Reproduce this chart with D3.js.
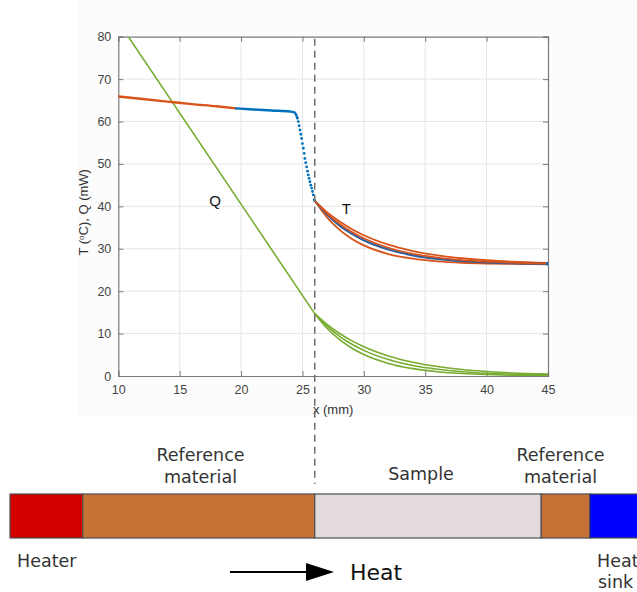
<!DOCTYPE html>
<html>
<head>
<meta charset="utf-8">
<script src="https://cdn.jsdelivr.net/npm/d3@7"></script>
<style>
  html, body { margin: 0; padding: 0; background: #ffffff; }
  svg { display: block; }
</style>
</head>
<body>
<svg id="chart" width="637" height="592"></svg>
<script>
// ---- data ----------------------------------------------------------------
const xTicks = [10, 15, 20, 25, 30, 35, 40, 45];
const yTicks = [0, 10, 20, 30, 40, 50, 60, 70, 80];
const interfaceX = 26; // reference / sample boundary (mm)

// modelled temperature in the reference section (orange)
const tRefModel = [[10, 65.9], [12, 65.3], [14, 64.7], [16, 64.1], [18, 63.6], [19.6, 63.1]];

// measured temperature, dense part before the drop (blue)
const tMeasFlat = [[19.6, 63.1], [21, 62.85], [22.5, 62.6], [24, 62.35], [24.3, 62.2], [24.45, 61.8], [24.55, 61.1]];
// measured temperature, individual points across the interface
const tMeasDrop = [
  [24.59, 60.8], [24.66, 60.0], [24.73, 59.0], [24.8, 58.0], [24.87, 57.0], [24.93, 56.0],
  [25.0, 54.8], [25.07, 53.7], [25.14, 52.5], [25.2, 51.3], [25.27, 50.3], [25.34, 49.3],
  [25.41, 48.3], [25.47, 47.4], [25.54, 46.6], [25.61, 45.8], [25.68, 45.0], [25.75, 44.3],
  [25.82, 43.5], [25.88, 42.7], [25.96, 41.5]
];
// measured temperature inside the sample (blue)
const tMeasSample = [[26, 41.3], [27, 38.08], [28, 35.54], [29, 33.56], [30, 31.99], [32, 29.81],
  [34, 28.46], [36, 27.63], [38, 27.12], [40, 26.81], [42, 26.61], [45, 26.45]];

// modelled temperature inside the sample, three fits (orange)
const tFitHigh = [[26, 41.3], [27, 38.65], [28, 36.47], [29, 34.68], [30, 33.2], [32, 30.98],
  [34, 29.47], [36, 28.45], [38, 27.76], [40, 27.29], [42, 26.97], [45, 26.67]];
const tFitMid = [[26, 41.3], [27, 38.31], [28, 35.92], [29, 34.0], [30, 32.47], [32, 30.25],
  [34, 28.84], [36, 27.93], [38, 27.34], [40, 26.97], [42, 26.73], [45, 26.52]];
const tFitLow = [[26, 41.3], [27, 37.4], [28, 34.51], [29, 32.38], [30, 30.8], [32, 28.76],
  [34, 27.65], [36, 27.04], [38, 26.7], [40, 26.52], [42, 26.42], [45, 26.35]];

// heat flow through the reference section (green)
const qRef = [[10, 83.5], [26, 14.7]];
// heat flow inside the sample, three fits (green)
const qFitA = [[26, 14.7], [27, 12.17], [28, 10.08], [29, 8.35], [30, 6.91], [32, 4.74],
  [34, 3.25], [36, 2.23], [38, 1.53], [40, 1.05], [42, 0.72], [45, 0.45]];
const qFitB = [[26, 14.7], [27, 11.77], [28, 9.42], [29, 7.55], [30, 6.04], [32, 3.87],
  [34, 2.48], [36, 1.59], [38, 1.02], [40, 0.66], [42, 0.42], [45, 0.28]];
const qFitC = [[26, 14.7], [27, 11.26], [28, 8.63], [29, 6.61], [30, 5.06], [32, 2.97],
  [34, 1.74], [36, 1.02], [38, 0.6], [40, 0.35], [42, 0.21], [45, 0.12]];

// stack layout below the plot (positions in mm along the same x axis)
const stackParts = ["Heater", "Reference material", "Sample", "Reference material", "Heat sink"];
const stackStart = [1.18, 7.1, 26, 44.45, 48.4];
const stackEnd = [7.1, 26, 44.45, 48.4, 53];
const stackColors = ["#d40000", "#c87137", "#e3dbdb", "#c87137", "#0000ff"];

// ---- layout ----------------------------------------------------------------
const svg = d3.select("#chart");
const plot = { left: 118.3, right: 548, top: 36.7, bottom: 376 };

const x = d3.scaleLinear().domain([10, 45]).range([plot.left, plot.right]);
const y = d3.scaleLinear().domain([0, 80]).range([plot.bottom, plot.top]);

const ORANGE = "#d95319";
const BLUE = "#0072bd";
const GREEN = "#77ac30";

// faint figure background behind the axes
svg.append("rect")
  .attr("x", 78).attr("y", 0).attr("width", 559).attr("height", 417)
  .attr("fill", "#fcfcfc");

svg.append("rect")
  .attr("x", plot.left).attr("y", plot.top)
  .attr("width", plot.right - plot.left).attr("height", plot.bottom - plot.top)
  .attr("fill", "#ffffff");

// grid
const grid = svg.append("g").attr("stroke", "#e6e6e6").attr("stroke-width", 1);
grid.selectAll("line.gx").data(xTicks.slice(1, -1)).join("line")
  .attr("x1", d => x(d)).attr("x2", d => x(d))
  .attr("y1", plot.top).attr("y2", plot.bottom);
grid.selectAll("line.gy").data(yTicks.slice(1, -1)).join("line")
  .attr("x1", plot.left).attr("x2", plot.right)
  .attr("y1", d => y(d)).attr("y2", d => y(d));

// axes (ticks pointing inward, box on all sides)
const axisColor = "#7a7a7a";
const fontAxis = "'Liberation Sans', Arial, sans-serif";

const gx = svg.append("g").attr("transform", `translate(0,${plot.bottom})`)
  .call(d3.axisBottom(x).tickValues(xTicks).tickSize(-5).tickPadding(9).tickFormat(d3.format("d")));
const gy = svg.append("g").attr("transform", `translate(${plot.left},0)`)
  .call(d3.axisLeft(y).tickValues(yTicks).tickSize(-5).tickPadding(7).tickFormat(d3.format("d")));
const gxTop = svg.append("g").attr("transform", `translate(0,${plot.top})`)
  .call(d3.axisTop(x).tickValues(xTicks).tickSize(-5).tickFormat(""));
const gyRight = svg.append("g").attr("transform", `translate(${plot.right},0)`)
  .call(d3.axisRight(y).tickValues(yTicks).tickSize(-5).tickFormat(""));

[gx, gy, gxTop, gyRight].forEach(g => {
  g.selectAll("path").attr("stroke", axisColor).attr("stroke-width", 1.2);
  g.selectAll("line").attr("stroke", axisColor);
  g.selectAll("text").attr("fill", "#444").attr("font-size", 12.5).attr("font-family", fontAxis);
});

// axis titles
svg.append("text")
  .attr("x", x(27.5)).attr("y", 414)
  .attr("text-anchor", "middle")
  .attr("font-family", fontAxis).attr("font-size", 13).attr("fill", "#333")
  .text("x (mm)");

const yTitle = svg.append("text")
  .attr("transform", `translate(88,${(plot.top + plot.bottom) / 2 + 6}) rotate(-90)`)
  .attr("text-anchor", "middle")
  .attr("font-family", fontAxis).attr("font-size", 13).attr("fill", "#333");
yTitle.append("tspan").text("T (");
yTitle.append("tspan").attr("baseline-shift", "super").attr("font-size", 8).text("o");
yTitle.append("tspan").text("C), Q (mW)");

// clip for data lines
svg.append("clipPath").attr("id", "plotClip")
  .append("rect").attr("x", plot.left).attr("y", plot.top)
  .attr("width", plot.right - plot.left).attr("height", plot.bottom - plot.top);

const data = svg.append("g").attr("clip-path", "url(#plotClip)");
const line = d3.line().x(d => x(d[0])).y(d => y(d[1])).curve(d3.curveMonotoneX);

function drawLine(points, color, width) {
  data.append("path").datum(points)
    .attr("fill", "none").attr("stroke", color).attr("stroke-width", width)
    .attr("stroke-linejoin", "round").attr("stroke-linecap", "round")
    .attr("d", line);
}

// heat flow
drawLine(qRef, GREEN, 1.6);
[qFitA, qFitB, qFitC].forEach(s => drawLine(s, GREEN, 1.6));

// temperature
drawLine(tRefModel, ORANGE, 2.4);
[tFitHigh, tFitLow].forEach(s => drawLine(s, ORANGE, 1.8));
drawLine(tMeasSample, "#2f5d9c", 2.2);
drawLine(tFitMid, ORANGE, 1.6);
drawLine(tMeasFlat, BLUE, 2.4);
data.selectAll("circle.meas").data(tMeasDrop).join("circle")
  .attr("cx", d => x(d[0])).attr("cy", d => y(d[1])).attr("r", 1.4)
  .attr("fill", BLUE);
data.append("circle")
  .attr("cx", x(tMeasSample[tMeasSample.length - 1][0]))
  .attr("cy", y(tMeasSample[tMeasSample.length - 1][1]))
  .attr("r", 2).attr("fill", BLUE);

// series labels
const fontLabel = "'Liberation Sans', Arial, sans-serif";
svg.append("text").attr("x", x(17.4)).attr("y", y(40.1))
  .attr("font-family", fontLabel).attr("font-size", 15).attr("fill", "#111").text("Q");
svg.append("text").attr("x", x(28.2)).attr("y", y(38.2))
  .attr("font-family", fontLabel).attr("font-size", 15).attr("fill", "#111").text("T");

// ---- stack diagram -------------------------------------------------------------
const barTop = 494, barBottom = 538;
const stack = svg.append("g");
stack.selectAll("rect").data(stackParts).join("rect")
  .attr("x", (d, i) => x(stackStart[i]))
  .attr("y", barTop)
  .attr("width", (d, i) => x(stackEnd[i]) - x(stackStart[i]))
  .attr("height", barBottom - barTop)
  .attr("fill", (d, i) => stackColors[i])
  .attr("stroke", "#4d4d4d").attr("stroke-width", 1.2);

// interface marker running through plot and diagram
svg.append("line")
  .attr("x1", x(interfaceX)).attr("x2", x(interfaceX))
  .attr("y1", plot.top + 2).attr("y2", 484)
  .attr("stroke", "#6e6e6e").attr("stroke-width", 1.5)
  .attr("stroke-dasharray", "7,5");

const fontDiag = "'DejaVu Sans', 'Open Sans', sans-serif";
function diagText(tx, ty, str, size, anchor) {
  svg.append("text").attr("x", tx).attr("y", ty)
    .attr("text-anchor", anchor || "middle")
    .attr("font-family", fontDiag).attr("font-size", size).attr("fill", "#333")
    .text(str);
}
// labels above the bar
diagText(200.5, 460.7, "Reference", 17.5);
diagText(200.5, 483, "material", 17.5);
diagText(421, 480, "Sample", 17.5);
diagText(560.5, 460.7, "Reference", 17.5);
diagText(560.5, 483, "material", 17.5);
// labels below the bar
diagText(17, 566.7, "Heater", 17.5, "start");
diagText(597, 566.7, "Heat", 17.5, "start");
diagText(598, 588, "sink", 17.5, "start");

// heat direction arrow
svg.append("line")
  .attr("x1", 230).attr("x2", 314).attr("y1", 572).attr("y2", 572)
  .attr("stroke", "#000").attr("stroke-width", 2);
svg.append("path")
  .attr("d", "M306,563 L334,572 L306,581 Z")
  .attr("fill", "#000");
svg.append("text").attr("x", 350).attr("y", 579.5)
  .attr("font-family", fontDiag).attr("font-size", 22).attr("fill", "#111")
  .text("Heat");
</script>
</body>
</html>
